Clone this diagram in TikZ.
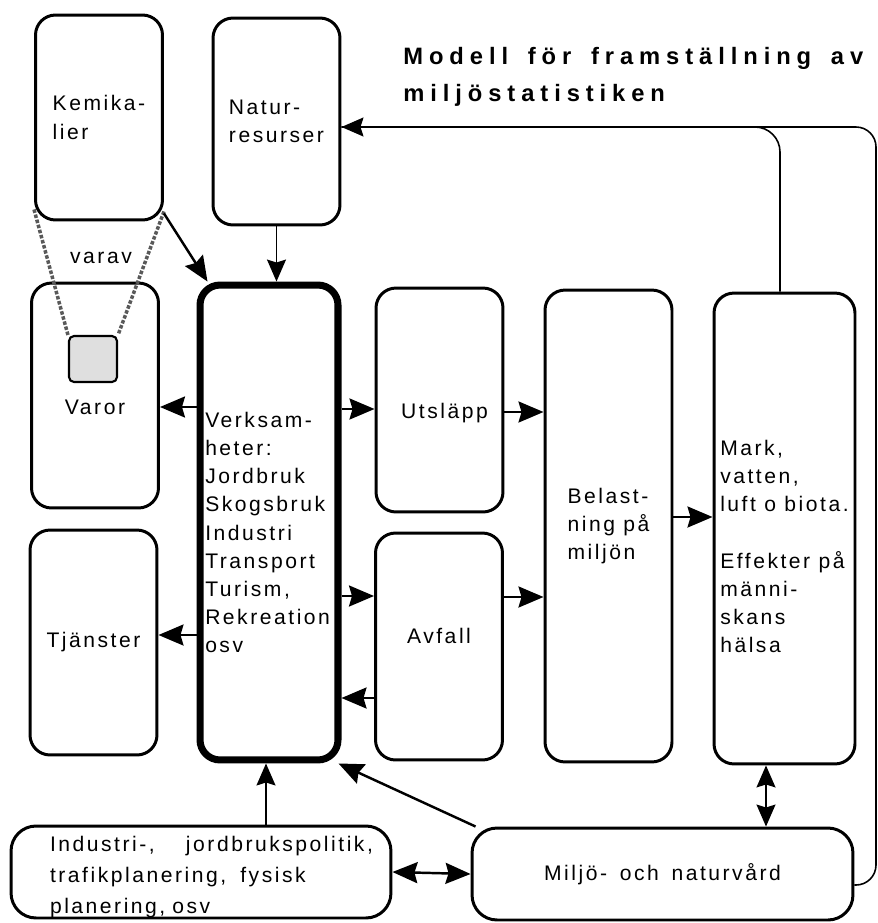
\documentclass[tikz,border=0pt]{standalone}
\usepackage{fontspec}
\setmainfont{Liberation Sans}[LetterSpace=12]
\usetikzlibrary{arrows.meta,positioning,calc}

\begin{document}
\begin{tikzpicture}[
    x=0.02cm, y=-0.02cm,
    font=\fontsize{12}{16}\selectfont,
    box/.style={rectangle, draw, line width=1.7pt, rounded corners=0.4cm, minimum width=2.54cm, minimum height=4.5cm, align=left},
    mainbox/.style={box, line width=4pt, minimum width=2.76cm, minimum height=9.5cm, inner sep=1pt, text width=2.55cm},
    tallbox/.style={box, minimum height=9.44cm},
    widebox/.style={box, rounded corners=0.5cm, minimum width=7.6cm, minimum height=1.84cm, inner sep=2pt},
    inside/.style={align=left},
    arrow/.style={-{Stealth[length=0.5cm, width=0.42cm, inset=0.06cm]}, line width=1.4pt},
    thinarrow/.style={-{Stealth[length=0.44cm, width=0.38cm, inset=0.06cm]}, line width=0.9pt},
    both/.style={{Stealth[length=0.5cm, width=0.42cm, inset=0.06cm]}-{Stealth[length=0.5cm, width=0.42cm, inset=0.06cm]}, line width=1.4pt},
    thinboth/.style={{Stealth[length=0.44cm, width=0.38cm, inset=0.06cm]}-{Stealth[length=0.44cm, width=0.38cm, inset=0.06cm]}, line width=0.9pt},
    varav/.style={draw=gray!70!black, line width=2pt, densely dotted}
]
\useasboundingbox (0,0) rectangle (877,923);

% Title
\node[anchor=north west, inner sep=0, text width=9.2cm, align=left,
      font=\bfseries\fontsize{13.5}{21}\selectfont\addfontfeatures{LetterSpace=25}] (titel) at (403,47)
      {Modell\hfill för\hfill framställning\hfill av\\miljöstatistiken};

% Upper boxes
\node[box, minimum height=4.1cm] (kemi) at (99,117.5) {Kemika-\\lier};
\node[box, minimum height=4.14cm] (natur) at (276.5,121.5) {Natur-\\resurser};

% Left column
\node[box, label={[yshift=-0.24cm]center:Varor}] (varor) at (95,395.5) {};
\node[rectangle, draw, line width=1.2pt, rounded corners=0.1cm, fill=gray!25,
      minimum width=0.96cm, minimum height=0.92cm] (delvaror) at (93,359) {};
\node[box] (tjanst) at (93.5,642.5) {Tjänster};

% Activities
\node[mainbox, label={[inside, text width=2.55cm, yshift=-0.2cm]center:Verksam-\\heter:\\Jordbruk\\Skogsbruk\\Industri\\Transport\\Turism,\\Rekreation\\osv}] (verks) at (269,522.5) {};

% Emissions and waste
\node[box, minimum height=4.48cm, label={[xshift=0.1cm, yshift=-0.26cm]center:Utsläpp}] (utslapp) at (439.5,400) {};
\node[box, minimum height=4.54cm, label={[yshift=0.22cm]center:Avfall}] (avfall) at (439,646.5) {};

% Environment
\node[tallbox] (belast) at (608.5,526) {Belast-\\ning på\\miljön};
\node[tallbox, minimum width=2.82cm, minimum height=9.42cm,
      label={[inside, yshift=-0.36cm]center:Mark,\\vatten,\\luft o biota.\\[16pt]Effekter på\\männi-\\skans\\hälsa}] (mark) at (784.5,528.5) {};

% Bottom boxes
\node[widebox, label={[inside, text width=6.46cm, xshift=0.21cm, yshift=-0.1cm, font=\fontsize{12}{17.5}\selectfont]center:Industri-,\hfill jordbrukspolitik,\\trafikplanering,\ \ fysisk\\planering, osv}] (industri) at (201,872) {};
\node[widebox, minimum width=7.62cm] (miljo) at (662.5,874) {Miljö-\hspace{0.6em}och\hspace{0.6em}naturvård};

% varav
\draw[varav] ([yshift=0.24cm]kemi.south west) -- (delvaror.north west);
\draw[varav] ([yshift=0.2cm]kemi.south east) -- (delvaror.north east);
\node (varav) at (101,258) {varav};

% Arrows
\draw[arrow] ([yshift=0.16cm]kemi.south east) -- ([xshift=0.22cm]verks.north west);
\draw[thinarrow] (natur.south) -- (natur.south |- verks.north);
\draw[arrow] (verks.west |- 0,407) -- (varor.east |- 0,407);
\draw[arrow] (verks.west |- 0,635) -- (tjanst.east |- 0,635);
\draw[arrow] (verks.east |- 0,409) -- (utslapp.west |- 0,409);
\draw[arrow] (verks.east |- 0,596) -- (avfall.west |- 0,596);
\draw[arrow] (avfall.west |- 0,698) -- (verks.east |- 0,698);
\draw[arrow] (utslapp.east |- 0,412) -- (belast.west |- 0,412);
\draw[arrow] (avfall.east |- 0,597) -- (belast.west |- 0,597);
\draw[arrow] (belast.east |- 0,517) -- (mark.west |- 0,517);
\draw[thinboth] (mark.south -| 766,0) -- (miljo.north -| 766,0);
\draw[arrow] ([xshift=0.1cm]miljo.north west) -- ([xshift=-0.06cm]verks.south east);
\draw[thinarrow] (industri.north -| 266,0) -- (verks.south -| 266,0);
\draw[both] (industri.east) -- (miljo.west);

% Feedback to natural resources
\draw[thinarrow, rounded corners=0.4cm] ([yshift=-0.22cm]miljo.east) -| (876,127) -- (natur.east |- 0,127);
\draw[line width=0.9pt, rounded corners=0.5cm] (mark.north -| 780,0) |- (natur.east |- 0,127);

\end{tikzpicture}
\end{document}
